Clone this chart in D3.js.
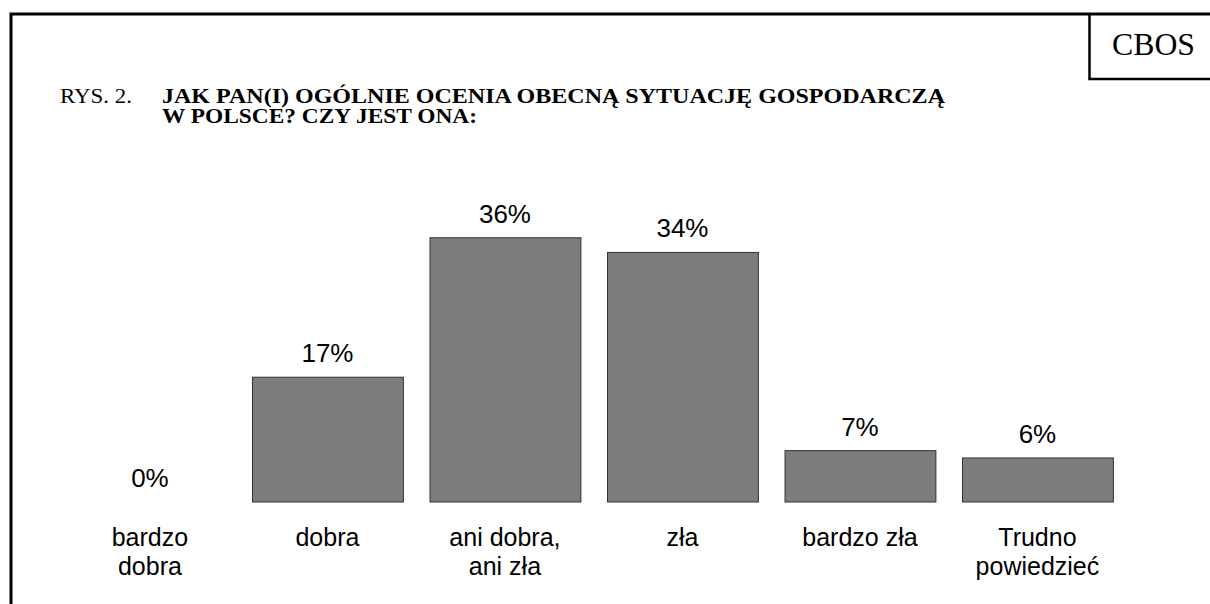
<!DOCTYPE html>
<html>
<head>
<meta charset="utf-8">
<script src="https://cdn.jsdelivr.net/npm/d3@7"></script>
<style>
  html, body { margin: 0; padding: 0; background: #fff; }
  svg { display: block; }
</style>
</head>
<body>
<div id="chart"></div>
<script>
// data
const categories = [
  ["bardzo", "dobra"],
  ["dobra"],
  ["ani dobra,", "ani zła"],
  ["zła"],
  ["bardzo zła"],
  ["Trudno", "powiedzieć"]
];
const values = [0, 17, 36, 34, 7, 6];
const figureLabel = "RYS. 2.";
const titleLines = [
  "JAK PAN(I) OGÓLNIE OCENIA OBECNĄ SYTUACJĘ GOSPODARCZĄ",
  "W POLSCE? CZY JEST ONA:"
];
const sourceLabel = "CBOS";

const width = 1210;
const height = 604;
const serif = "'Liberation Serif', 'Times New Roman', serif";
const sans = "'Liberation Sans', Arial, sans-serif";

const svg = d3.select("#chart").append("svg")
  .attr("width", width)
  .attr("height", height);

// frame
svg.append("path")
  .attr("d", `M11,${height + 5} V14 H${width + 5}`)
  .attr("fill", "none")
  .attr("stroke", "#000")
  .attr("stroke-width", 3);

// CBOS box
svg.append("path")
  .attr("d", `M1089.5,14 V79 H${width + 5}`)
  .attr("fill", "none")
  .attr("stroke", "#000")
  .attr("stroke-width", 2.5);

svg.append("text")
  .attr("x", 1112)
  .attr("y", 55)
  .attr("textLength", 83)
  .attr("lengthAdjust", "spacingAndGlyphs")
  .style("font-family", serif)
  .style("font-size", "31px")
  .text(sourceLabel);

// title (the original is set a bit wider than the font)
svg.append("text")
  .attr("x", 60)
  .attr("y", 103)
  .attr("textLength", 72)
  .attr("lengthAdjust", "spacingAndGlyphs")
  .style("font-family", serif)
  .style("font-size", "20px")
  .text(figureLabel);

const titleWidths = [783, 315];
svg.append("g")
  .selectAll("text")
  .data(titleLines)
  .join("text")
  .attr("x", 162)
  .attr("y", (d, i) => 103 + i * 20)
  .attr("textLength", (d, i) => titleWidths[i])
  .attr("lengthAdjust", "spacingAndGlyphs")
  .style("font-family", serif)
  .style("font-size", "20px")
  .style("font-weight", "bold")
  .text((d) => d);

// scales
const idx = d3.range(values.length);
const xScale = d3.scaleBand()
  .domain(idx)
  .range([61.2, 1126.2])
  .paddingInner(0.15)
  .paddingOuter(0.075);

const yScale = d3.scaleLinear()
  .domain([0, 40])
  .range([502, 502 - 293.6]);

// bars
svg.append("g")
  .selectAll("rect")
  .data(values)
  .join("rect")
  .attr("x", (d, i) => xScale(i) + 0.5)
  .attr("y", (d) => yScale(d))
  .attr("width", xScale.bandwidth())
  .attr("height", (d) => yScale(0) - yScale(d))
  .attr("fill", "#7c7c7c")
  .attr("stroke", (d) => (d > 0 ? "#333" : "none"))
  .attr("stroke-width", 1);

// value labels
svg.append("g")
  .selectAll("text")
  .data(values)
  .join("text")
  .attr("x", (d, i) => xScale(i) + xScale.bandwidth() / 2)
  .attr("y", (d) => yScale(d) - 15)
  .attr("text-anchor", "middle")
  .style("font-family", sans)
  .style("font-size", "26px")
  .style("fill", "#000")
  .text((d) => d + "%");

// category labels
const cats = svg.append("g")
  .selectAll("text")
  .data(categories)
  .join("text")
  .attr("text-anchor", "middle")
  .style("font-family", sans)
  .style("font-size", "25px")
  .style("fill", "#000");

cats.selectAll("tspan")
  .data((d, i) => d.map((line) => ({ line, i })))
  .join("tspan")
  .attr("x", (d) => xScale(d.i) + xScale.bandwidth() / 2)
  .attr("y", (d, j) => 546 + j * 29)
  .text((d) => d.line);
</script>
</body>
</html>
